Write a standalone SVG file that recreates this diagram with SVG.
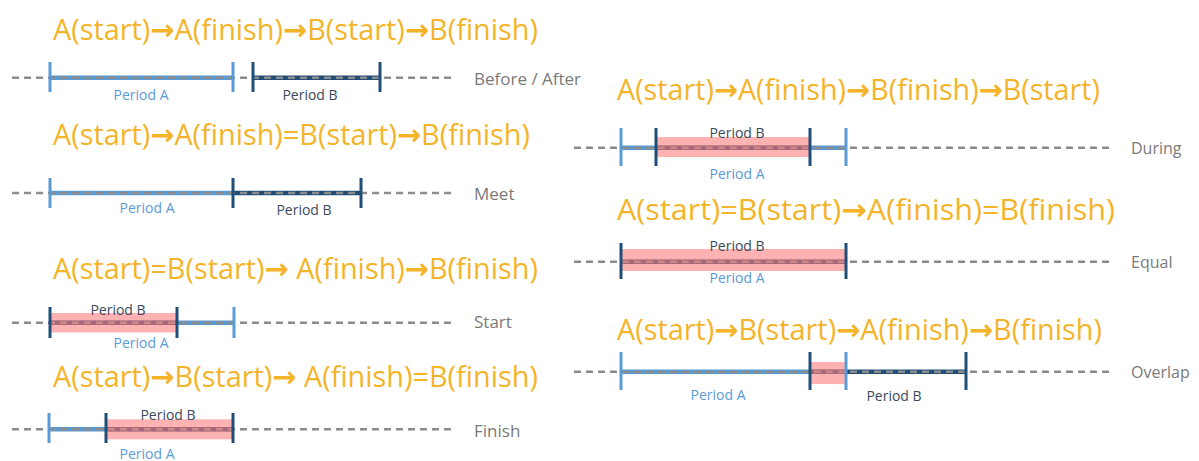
<svg xmlns="http://www.w3.org/2000/svg" width="1199" height="461" viewBox="0 0 1199 461">
<style>
.h{font-family:"Open Sans","Noto Sans","DejaVu Sans",sans-serif;font-size:29px;fill:#F4B42A}
.ar{font-weight:700}
.lbl{font-family:"Open Sans","Noto Sans",sans-serif;font-size:17px;fill:#7A7A7A}
.lbr{font-family:"Open Sans","Noto Sans",sans-serif;font-size:16px;fill:#7A7A7A}
.pa{font-family:"Open Sans","Noto Sans",sans-serif;font-size:14px;fill:#5B9BD5;text-anchor:middle}
.pb{font-family:"Open Sans","Noto Sans",sans-serif;font-size:14px;fill:#3A4A5E;text-anchor:middle}
.dash{stroke:#8C8C8C;stroke-width:2.6;stroke-dasharray:7 5;fill:none}
.la{stroke:#5B9BD5;stroke-width:4.5;fill:none}
.lb{stroke:#1F4E79;stroke-width:4.5;fill:none}
.ta{stroke:#5B9BD5;stroke-width:3;fill:none}
.tb{stroke:#1F4E79;stroke-width:3;fill:none}
.pink{fill:#FF7F7F;fill-opacity:0.6}
</style>
<rect width="1199" height="461" fill="#FFFFFF"/>

<g id="before-after">
<text class="h" x="53" y="40" textLength="485" lengthAdjust="spacingAndGlyphs">A(start)<tspan class="ar">→</tspan>A(finish)<tspan class="ar">→</tspan>B(start)<tspan class="ar">→</tspan>B(finish)</text>
<line class="la" x1="50" y1="77.7" x2="233" y2="77.7"/>
<line class="lb" x1="253" y1="77.7" x2="380" y2="77.7"/>
<line class="dash" x1="12" y1="77.7" x2="452" y2="77.7"/>
<line class="ta" x1="50" y1="62" x2="50" y2="92"/>
<line class="ta" x1="233" y1="62" x2="233" y2="92"/>
<line class="tb" x1="253" y1="62" x2="253" y2="92"/>
<line class="tb" x1="380" y1="62" x2="380" y2="92"/>
<text class="pa" x="141" y="100">Period A</text>
<text class="pb" x="310" y="100">Period B</text>
<text class="lbl" x="474" y="85">Before / After</text>
</g>

<g id="meet">
<text class="h" x="53" y="145" textLength="477" lengthAdjust="spacingAndGlyphs">A(start)<tspan class="ar">→</tspan>A(finish)=B(start)<tspan class="ar">→</tspan>B(finish)</text>
<line class="la" x1="50" y1="193" x2="233" y2="193"/>
<line class="lb" x1="233" y1="193" x2="361" y2="193"/>
<line class="dash" x1="12" y1="193" x2="452" y2="193"/>
<line class="ta" x1="50" y1="178" x2="50" y2="208"/>
<line class="tb" x1="233" y1="178" x2="233" y2="208"/>
<line class="tb" x1="361" y1="178" x2="361" y2="208"/>
<text class="pa" x="147" y="213">Period A</text>
<text class="pb" x="304" y="215">Period B</text>
<text class="lbl" x="474" y="200">Meet</text>
</g>

<g id="start">
<text class="h" x="53" y="279" textLength="485" lengthAdjust="spacingAndGlyphs">A(start)=B(start)<tspan class="ar">→</tspan> A(finish)<tspan class="ar">→</tspan>B(finish)</text>
<line class="la" x1="50" y1="322.7" x2="234" y2="322.7"/>
<line class="lb" x1="50" y1="322.7" x2="177" y2="322.7"/>
<line class="dash" x1="12" y1="322.7" x2="452" y2="322.7"/>
<rect class="pink" x="50" y="313" width="126" height="19.5"/>
<line class="tb" x1="50" y1="307" x2="50" y2="338"/>
<line class="tb" x1="177" y1="307" x2="177" y2="338"/>
<line class="ta" x1="234" y1="307" x2="234" y2="338"/>
<text class="pb" x="118" y="315">Period B</text>
<text class="pa" x="141" y="348">Period A</text>
<text class="lbl" x="474" y="328">Start</text>
</g>

<g id="finish">
<text class="h" x="53" y="387" textLength="485" lengthAdjust="spacingAndGlyphs">A(start)<tspan class="ar">→</tspan>B(start)<tspan class="ar">→</tspan> A(finish)=B(finish)</text>
<line class="la" x1="49" y1="429.3" x2="233" y2="429.3"/>
<line class="lb" x1="106" y1="429.3" x2="233" y2="429.3"/>
<line class="dash" x1="12" y1="429.3" x2="452" y2="429.3"/>
<rect class="pink" x="106" y="419.3" width="127" height="20"/>
<line class="ta" x1="49" y1="413" x2="49" y2="443"/>
<line class="tb" x1="106" y1="413" x2="106" y2="443"/>
<line class="tb" x1="233" y1="413" x2="233" y2="443"/>
<text class="pb" x="168" y="420">Period B</text>
<text class="pa" x="147" y="459">Period A</text>
<text class="lbl" x="474" y="436.5">Finish</text>
</g>

<g id="during">
<text class="h" x="617" y="100" textLength="483" lengthAdjust="spacingAndGlyphs">A(start)<tspan class="ar">→</tspan>A(finish)<tspan class="ar">→</tspan>B(finish)<tspan class="ar">→</tspan>B(start)</text>
<line class="la" x1="621" y1="147.7" x2="846" y2="147.7"/>
<line class="lb" x1="656" y1="147.7" x2="810" y2="147.7"/>
<line class="dash" x1="574" y1="147.7" x2="1111" y2="147.7"/>
<rect class="pink" x="656" y="137" width="154" height="20"/>
<line class="ta" x1="621" y1="128" x2="621" y2="166"/>
<line class="tb" x1="656" y1="128" x2="656" y2="166"/>
<line class="tb" x1="810" y1="128" x2="810" y2="166"/>
<line class="ta" x1="846" y1="128" x2="846" y2="166"/>
<text class="pb" x="737" y="138">Period B</text>
<text class="pa" x="737" y="179">Period A</text>
<text class="lbr" x="1131" y="154">During</text>
</g>

<g id="equal">
<text class="h" x="617" y="220" textLength="498" lengthAdjust="spacingAndGlyphs">A(start)=B(start)<tspan class="ar">→</tspan>A(finish)=B(finish)</text>
<line class="la" x1="621" y1="261.7" x2="846" y2="261.7"/>
<line class="lb" x1="621" y1="261.7" x2="846" y2="261.7"/>
<line class="dash" x1="574" y1="261.7" x2="1111" y2="261.7"/>
<rect class="pink" x="621" y="249" width="225" height="22"/>
<line class="tb" x1="621" y1="243" x2="621" y2="279"/>
<line class="tb" x1="846" y1="243" x2="846" y2="279"/>
<text class="pb" x="737" y="251">Period B</text>
<text class="pa" x="737" y="283">Period A</text>
<text class="lbr" x="1131" y="268">Equal</text>
</g>

<g id="overlap">
<text class="h" x="617" y="340" textLength="485" lengthAdjust="spacingAndGlyphs">A(start)<tspan class="ar">→</tspan>B(start)<tspan class="ar">→</tspan>A(finish)<tspan class="ar">→</tspan>B(finish)</text>
<line class="la" x1="621" y1="371.7" x2="846" y2="371.7"/>
<line class="lb" x1="810" y1="371.7" x2="966" y2="371.7"/>
<line class="dash" x1="574" y1="371.7" x2="1111" y2="371.7"/>
<rect class="pink" x="810" y="362" width="36" height="22"/>
<line class="ta" x1="621" y1="352" x2="621" y2="390"/>
<line class="tb" x1="810" y1="352" x2="810" y2="390"/>
<line class="ta" x1="846" y1="352" x2="846" y2="390"/>
<line class="tb" x1="966" y1="352" x2="966" y2="390"/>
<text class="pa" x="718" y="400">Period A</text>
<text class="pb" x="894" y="401">Period B</text>
<text class="lbr" x="1131" y="378">Overlap</text>
</g>

<g id="connectors"></g>
</svg>
